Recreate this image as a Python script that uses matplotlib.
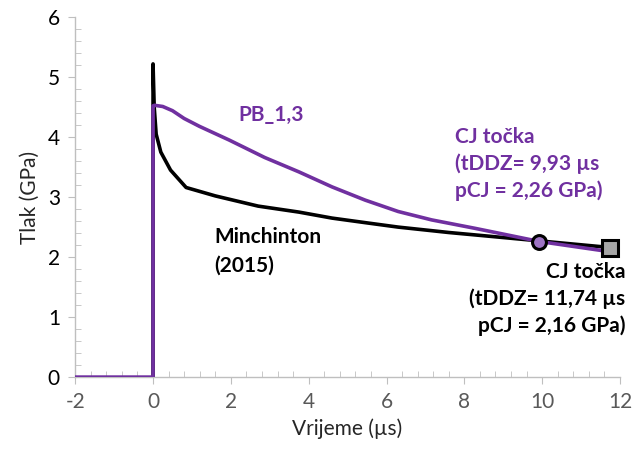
"""Tlak vs vrijeme: Minchinton (2015) i PB_1,3 s CJ točkama."""

import matplotlib

matplotlib.use("Agg")
import matplotlib.pyplot as plt
from matplotlib.ticker import MultipleLocator

# Minchinton (2015) krivulja
mind_t = [0.0, 0.0, 0.03, 0.08, 0.2, 0.45, 0.85, 1.6, 2.7, 3.75, 4.6, 5.5, 6.3,
          7.6, 8.27, 9.93, 11.74]
mind_p = [0.0, 5.22, 4.5, 4.05, 3.75, 3.45, 3.16, 3.02, 2.85, 2.75, 2.65, 2.57, 2.5,
          2.41, 2.37, 2.27, 2.16]

# PB_1,3 krivulja
pb_t = [-2.0, 0.0, 0.0, 0.04, 0.25, 0.5, 0.8, 1.19, 1.96, 2.87, 3.75, 4.6, 5.45, 6.3,
        7.16, 8.27, 9.93, 11.74, 12.0]
pb_p = [0.0, 0.0, 4.52, 4.53, 4.51, 4.44, 4.31, 4.18, 3.95, 3.66, 3.42, 3.17, 2.95, 2.76,
        2.62, 2.48, 2.26, 2.09, 2.06]

cj_pb = (9.93, 2.26)
cj_mind = (11.74, 2.16)

PURPLE = "#7030A0"
AXIS_GRAY = "#bfbfbf"
TEXT_GRAY = "#595959"

plt.rcParams["font.family"] = ["Lato", "DejaVu Sans"]
plt.rcParams["axes.unicode_minus"] = False

fig = plt.figure(figsize=(6.32, 4.5), dpi=100)
ax = fig.add_axes([0.119, 0.162, 0.862, 0.8])

ax.plot(mind_t, mind_p, color="black", lw=2.6, solid_joinstyle="round", zorder=2)
ax.plot(pb_t, pb_p, color=PURPLE, lw=2.6, solid_joinstyle="round", zorder=3)

ax.plot(*cj_pb, marker="o", ms=10, mfc="#9e74c4", mec="black", mew=2.2, zorder=5)
ax.plot(*cj_mind, marker="s", ms=11, mfc="#a6a6a6", mec="black", mew=2.2, zorder=5)

ax.set_xlim(-2, 12)
ax.set_ylim(0, 6)
ax.xaxis.set_major_locator(MultipleLocator(2))
ax.xaxis.set_minor_locator(MultipleLocator(0.4))
ax.yaxis.set_major_locator(MultipleLocator(1))
ax.yaxis.set_minor_locator(MultipleLocator(0.2))

for side in ("top", "right"):
    ax.spines[side].set_visible(False)
for side in ("left", "bottom"):
    ax.spines[side].set_color(AXIS_GRAY)
    ax.spines[side].set_linewidth(1)

ax.tick_params(which="major", direction="out", length=5, color=AXIS_GRAY,
               labelsize=15, labelcolor=TEXT_GRAY, pad=6)
ax.tick_params(which="minor", direction="in", length=4, color=AXIS_GRAY)
ax.tick_params(axis="y", labelcolor="black")

ax.set_xlabel("Vrijeme (µs)", fontsize=15, color="#262626", labelpad=4)
ax.set_ylabel("Tlak (GPa)", fontsize=15, color="#262626", labelpad=6)

label_kw = dict(fontsize=15, fontweight="bold", va="center")
ax.text(2.2, 4.37, "PB_1,3", color=PURPLE, **label_kw)
ax.text(7.76, 3.55, "CJ točka\n(tDDZ= 9,93 µs\npCJ = 2,26 GPa)", color=PURPLE,
        linespacing=1.4, ha="left", **label_kw)
ax.text(1.57, 2.09, "Minchinton\n(2015)", color="black",
        linespacing=1.55, ha="left", **label_kw)
ax.text(12.14, 1.3, "CJ točka\n(tDDZ= 11,74 µs\npCJ = 2,16 GPa)", color="black",
        linespacing=1.4, ha="right", **label_kw)

fig.savefig("out.png", dpi=100)
